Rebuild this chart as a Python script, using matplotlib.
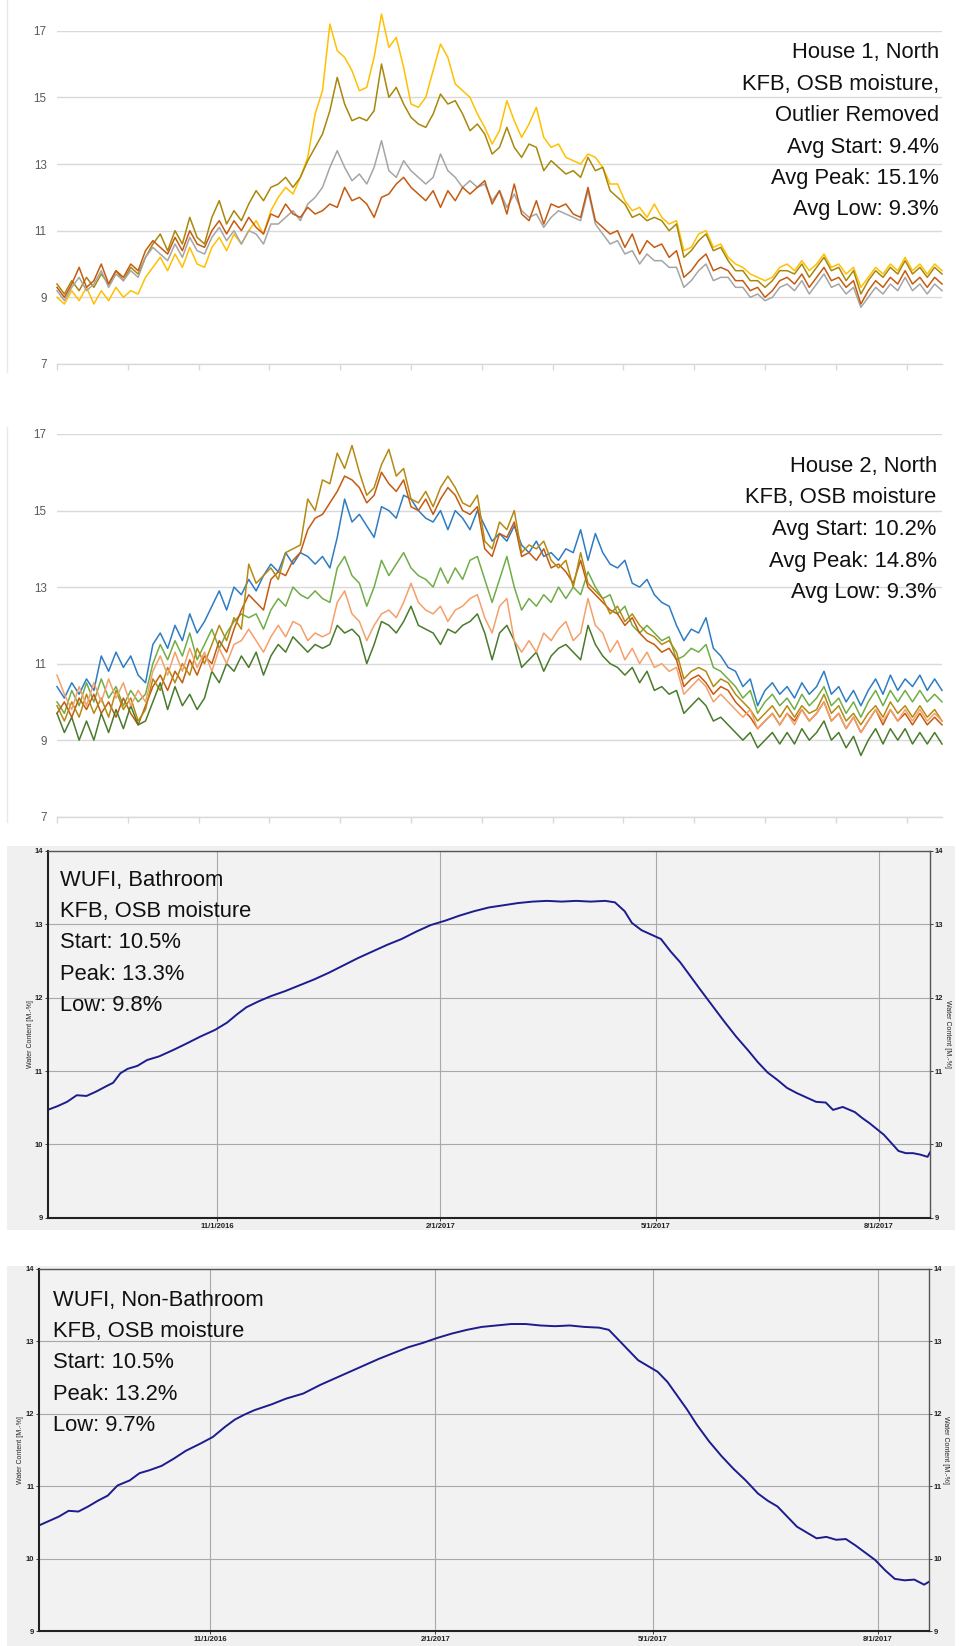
import datetime as dt
import numpy as np
import matplotlib
matplotlib.use("Agg")
import matplotlib.pyplot as plt
from matplotlib.patches import Rectangle
from matplotlib.lines import Line2D

# ---------------- field data: House 1 (OSB moisture content, %) ----------------
h1_yellow = [9.0, 8.8, 9.2, 8.9, 9.3, 8.8, 9.2, 8.9, 9.3, 9.0,
             9.2, 9.1, 9.6, 9.9, 10.2, 9.8, 10.3, 9.9, 10.5, 10.0,
             9.9, 10.5, 10.8, 10.4, 10.9, 10.6, 11.0, 11.3, 10.9, 11.6,
             12.0, 12.3, 12.1, 12.6, 13.2, 14.5, 15.2, 17.2, 16.4, 16.2,
             15.8, 15.2, 15.3, 16.2, 17.5, 16.5, 16.8, 15.9, 14.8, 14.7,
             15.0, 15.8, 16.6, 16.2, 15.4, 15.2, 15.0, 14.5, 14.1, 13.6,
             14.0, 14.9, 14.3, 13.8, 14.2, 14.7, 13.8, 13.5, 13.6, 13.2,
             13.1, 13.0, 13.3, 13.2, 12.9, 12.4, 12.4, 11.9, 11.6, 11.7,
             11.4, 11.8, 11.4, 11.2, 11.3, 10.4, 10.5, 10.9, 11.0, 10.5,
             10.6, 10.2, 10.0, 9.9, 9.7, 9.6, 9.5, 9.6, 9.9, 10.0,
             9.8, 10.1, 9.8, 10.0, 10.3, 9.9, 10.0, 9.7, 9.9, 9.3,
             9.6, 9.9, 9.7, 10.0, 9.8, 10.2, 9.8, 10.0, 9.7, 10.0, 9.8]
h1_gold = [9.4, 9.1, 9.5, 9.2, 9.6, 9.3, 9.7, 9.4, 9.8, 9.5,
           9.9, 9.7, 10.2, 10.6, 10.9, 10.4, 11.0, 10.6, 11.4, 10.8,
           10.6, 11.4, 11.9, 11.2, 11.6, 11.3, 11.8, 12.2, 11.9, 12.3,
           12.4, 12.6, 12.3, 12.6, 13.1, 13.5, 13.9, 14.6, 15.6, 14.8,
           14.3, 14.4, 14.3, 14.6, 16.0, 15.0, 15.3, 14.8, 14.4, 14.2,
           14.1, 14.5, 15.1, 14.8, 14.9, 14.5, 14.0, 14.2, 13.9, 13.3,
           13.5, 14.1, 13.5, 13.2, 13.6, 13.5, 12.8, 13.1, 12.9, 12.7,
           12.8, 12.6, 13.2, 12.8, 12.9, 12.2, 12.0, 11.8, 11.4, 11.5,
           11.3, 11.4, 11.3, 11.0, 11.2, 10.2, 10.4, 10.7, 10.9, 10.4,
           10.5, 10.1, 9.8, 9.8, 9.5, 9.5, 9.3, 9.5, 9.8, 9.8,
           9.7, 10.0, 9.6, 9.9, 10.2, 9.8, 9.9, 9.5, 9.8, 9.1,
           9.5, 9.8, 9.6, 9.9, 9.7, 10.1, 9.7, 9.9, 9.6, 9.9, 9.7]
h1_gray = [9.2, 8.9, 9.3, 9.6, 9.2, 9.4, 9.8, 9.3, 9.7, 9.5,
           9.8, 9.6, 10.2, 10.5, 10.3, 10.1, 10.6, 10.2, 10.8, 10.4,
           10.3, 10.8, 11.1, 10.7, 11.0, 10.6, 11.0, 10.9, 10.6, 11.2,
           11.2, 11.4, 11.6, 11.3, 11.8, 12.0, 12.3, 12.9, 13.4, 12.9,
           12.5, 12.7, 12.4, 12.9, 13.7, 12.8, 12.6, 13.1, 12.8, 12.6,
           12.4, 12.6, 13.3, 12.8, 12.6, 12.3, 12.5, 12.3, 12.4, 11.9,
           12.2, 11.7, 12.1, 11.6, 11.4, 11.5, 11.1, 11.4, 11.6, 11.5,
           11.4, 11.3, 12.2, 11.2, 10.9, 10.6, 10.7, 10.3, 10.4, 10.0,
           10.3, 10.1, 10.1, 9.9, 9.9, 9.3, 9.5, 9.8, 10.0, 9.5,
           9.6, 9.6, 9.3, 9.3, 9.0, 9.1, 8.9, 9.0, 9.3, 9.4,
           9.2, 9.5, 9.1, 9.4, 9.7, 9.3, 9.4, 9.1, 9.3, 8.7,
           9.0, 9.3, 9.1, 9.4, 9.2, 9.6, 9.2, 9.4, 9.1, 9.4, 9.2]
h1_rust = [9.3, 9.0, 9.4, 9.9, 9.3, 9.5, 10.0, 9.4, 9.8, 9.6,
           10.0, 9.8, 10.4, 10.7, 10.5, 10.3, 10.8, 10.4, 11.0, 10.6,
           10.5, 11.0, 11.3, 10.9, 11.3, 11.0, 11.4, 11.1, 10.9, 11.5,
           11.4, 11.8, 11.5, 11.4, 11.7, 11.5, 11.6, 11.8, 11.7, 12.3,
           11.9, 12.0, 11.8, 11.4, 12.0, 12.1, 12.4, 12.6, 12.3, 12.1,
           11.9, 12.2, 11.7, 12.2, 11.9, 12.3, 12.1, 12.3, 12.5, 11.8,
           12.2, 11.5, 12.4, 11.5, 11.3, 11.9, 11.2, 11.8, 11.7, 11.8,
           11.5, 11.4, 12.3, 11.3, 11.1, 10.9, 11.0, 10.5, 10.9, 10.3,
           10.7, 10.5, 10.6, 10.2, 10.4, 9.6, 9.8, 10.1, 10.3, 9.8,
           9.9, 9.8, 9.5, 9.5, 9.2, 9.3, 9.0, 9.2, 9.5, 9.6,
           9.4, 9.7, 9.3, 9.6, 9.9, 9.5, 9.6, 9.3, 9.5, 8.8,
           9.2, 9.5, 9.3, 9.6, 9.4, 9.8, 9.4, 9.6, 9.3, 9.6, 9.4]

# ---------------- field data: House 2 ----------------
h2_blue = [10.4, 10.1, 10.5, 10.2, 10.6, 10.3, 11.2, 10.8, 11.3, 10.9,
           11.2, 10.7, 10.5, 11.5, 11.8, 11.4, 12.0, 11.6, 12.3, 11.8,
           12.1, 12.5, 12.9, 12.4, 13.0, 12.8, 13.2, 12.9, 13.3, 13.6,
           13.4, 13.9, 13.6, 13.9, 13.8, 13.6, 13.8, 13.5, 14.3, 15.3,
           14.7, 14.9, 14.6, 14.3, 15.1, 15.0, 14.8, 15.4, 15.3, 15.0,
           14.8, 14.7, 15.0, 14.5, 15.0, 14.8, 14.5, 15.0, 14.6, 14.2,
           14.4, 14.2, 14.6, 14.1, 13.9, 14.2, 13.8, 13.9, 13.7, 14.0,
           13.9, 14.5, 13.7, 14.4, 13.9, 13.6, 13.5, 13.7, 13.1, 13.0,
           13.2, 12.8, 12.6, 12.5, 12.0, 11.6, 11.9, 11.8, 12.2, 11.4,
           11.2, 10.9, 10.8, 10.4, 10.6, 9.9, 10.3, 10.5, 10.2, 10.4,
           10.1, 10.5, 10.2, 10.4, 10.8, 10.2, 10.4, 10.0, 10.3, 9.9,
           10.3, 10.6, 10.2, 10.7, 10.3, 10.6, 10.4, 10.7, 10.3, 10.6, 10.3]
h2_gold = [9.9, 9.5, 10.0, 9.6, 10.2, 9.7, 10.1, 9.6, 10.3, 9.8,
           10.1, 9.5, 9.8, 10.6, 10.3, 10.9, 10.5, 11.0, 10.7, 11.4,
           11.0, 11.5, 12.0, 11.6, 12.2, 11.9, 13.6, 13.1, 13.3, 13.5,
           13.2, 13.9, 14.0, 14.1, 15.3, 15.0, 15.8, 15.7, 16.5, 16.1,
           16.7, 16.0, 15.4, 15.6, 16.2, 16.6, 15.9, 16.1, 15.3, 15.2,
           15.5, 15.1, 15.6, 15.9, 15.6, 15.2, 15.1, 15.4, 14.2, 14.0,
           14.7, 14.5, 15.0, 13.9, 14.1, 14.0, 14.2, 13.7, 13.5, 13.7,
           13.0, 13.9, 13.1, 12.9, 12.7, 12.3, 12.5, 12.1, 12.3, 12.0,
           11.8, 11.7, 11.5, 11.6, 11.3, 10.6, 10.8, 10.9, 10.8, 10.4,
           10.6, 10.5, 10.2, 10.0, 9.8, 9.5, 9.7, 9.9, 9.6, 9.9,
           9.6, 9.9, 9.7, 9.8, 10.2, 9.7, 9.9, 9.5, 9.7, 9.4,
           9.7, 9.9, 9.6, 10.0, 9.7, 9.9, 9.6, 9.9, 9.6, 9.8, 9.5]
h2_rust = [9.7, 10.0, 9.6, 10.1, 9.8, 10.2, 9.7, 10.0, 9.6, 10.1,
           9.7, 9.4, 9.9, 10.4, 10.7, 10.3, 10.8, 10.5, 11.1, 10.7,
           11.2, 11.0, 11.6, 11.3, 11.9, 12.4, 12.8, 12.6, 12.4, 13.2,
           13.4, 13.3, 13.7, 13.9, 14.5, 14.8, 14.9, 15.2, 15.5, 15.9,
           15.8, 15.6, 15.2, 15.4, 16.0, 15.7, 15.5, 15.8, 15.1, 15.0,
           15.3, 14.9, 15.3, 15.6, 15.4, 15.0, 14.9, 15.1, 14.0, 13.8,
           14.4, 14.3, 14.7, 13.8, 13.9, 13.7, 14.0, 13.5, 13.6, 13.4,
           13.1, 13.7, 13.0, 12.8, 12.6, 12.4, 12.3, 12.0, 12.2, 11.8,
           11.6, 11.5, 11.3, 11.4, 11.1, 10.4, 10.6, 10.7, 10.5, 10.2,
           10.4, 10.3, 10.0, 9.8, 9.6, 9.3, 9.5, 9.7, 9.4, 9.7,
           9.5, 9.8, 9.5, 9.7, 10.0, 9.5, 9.7, 9.3, 9.6, 9.2,
           9.5, 9.8, 9.4, 9.8, 9.5, 9.7, 9.4, 9.7, 9.4, 9.6, 9.4]
h2_green = [10.0, 9.7, 10.3, 9.9, 10.5, 10.0, 10.6, 10.1, 10.4, 9.9,
            10.3, 10.0, 10.2, 11.0, 11.5, 11.1, 11.6, 11.2, 11.8, 11.1,
            11.5, 11.9, 11.4, 11.8, 12.1, 12.3, 12.2, 12.3, 11.9, 12.4,
            12.7, 12.5, 13.0, 12.8, 12.7, 12.9, 12.7, 12.6, 13.5, 13.8,
            13.3, 13.1, 12.5, 13.0, 13.7, 13.3, 13.6, 13.9, 13.5, 13.3,
            13.2, 13.0, 13.5, 13.1, 13.5, 13.2, 13.7, 13.8, 13.2, 12.6,
            13.2, 13.8, 13.0, 12.4, 12.7, 12.5, 12.8, 12.6, 13.0, 12.7,
            13.0, 12.8, 13.4, 13.0, 12.7, 12.8, 12.3, 12.5, 12.0, 11.8,
            12.0, 11.8, 11.6, 11.7, 11.1, 11.2, 11.4, 11.3, 11.5, 10.9,
            10.8, 10.6, 10.4, 10.1, 10.3, 9.7, 10.0, 10.2, 9.9, 10.1,
            9.8, 10.2, 9.9, 10.1, 10.4, 9.9, 10.1, 9.7, 10.0, 9.6,
            10.0, 10.3, 9.9, 10.3, 10.0, 10.3, 10.0, 10.3, 10.0, 10.2, 10.0]
h2_orange = [10.7, 10.2, 9.8, 10.4, 9.9, 10.5, 10.0, 10.6, 10.1, 10.5,
             9.9, 10.3, 10.0, 10.8, 11.2, 10.7, 11.3, 10.8, 11.4, 10.9,
             11.3, 10.8, 11.4, 11.0, 11.5, 11.6, 11.9, 11.6, 11.3, 11.7,
             12.0, 11.7, 12.1, 12.0, 11.6, 11.8, 11.7, 11.8, 12.6, 12.9,
             12.3, 12.1, 11.6, 12.0, 12.3, 12.4, 12.2, 12.6, 13.1, 12.6,
             12.4, 12.3, 12.5, 12.1, 12.4, 12.5, 12.7, 12.8, 12.2, 11.8,
             12.5, 12.7, 11.6, 11.3, 11.6, 11.3, 11.8, 11.6, 11.9, 12.1,
             11.6, 11.8, 12.7, 12.0, 11.8, 11.3, 11.6, 11.1, 11.4, 11.0,
             11.3, 10.9, 11.0, 10.8, 10.9, 10.2, 10.4, 10.6, 10.4, 10.0,
             10.2, 10.0, 9.8, 9.6, 9.8, 9.3, 9.5, 9.7, 9.4, 9.7,
             9.4, 9.8, 9.5, 9.7, 10.0, 9.5, 9.7, 9.3, 9.6, 9.2,
             9.5, 9.8, 9.5, 9.8, 9.5, 9.8, 9.5, 9.8, 9.5, 9.7, 9.5]
h2_darkgreen = [9.7, 9.2, 9.6, 9.0, 9.5, 9.0, 9.7, 9.2, 9.8, 9.3,
                9.9, 9.4, 9.5, 10.0, 10.5, 9.8, 10.4, 9.9, 10.2, 9.8,
                10.1, 10.8, 10.5, 11.0, 10.8, 11.2, 10.9, 11.3, 10.7, 11.2,
                11.5, 11.3, 11.7, 11.5, 11.3, 11.5, 11.4, 11.5, 12.0, 11.8,
                11.9, 11.7, 11.0, 11.5, 12.1, 12.0, 11.8, 12.1, 12.5, 12.0,
                11.9, 11.8, 11.5, 11.9, 11.8, 12.0, 12.1, 12.3, 11.8, 11.1,
                11.8, 12.0, 11.6, 10.9, 11.1, 11.3, 10.8, 11.2, 11.4, 11.5,
                11.3, 11.1, 12.0, 11.5, 11.2, 11.0, 10.9, 10.7, 10.9, 10.5,
                10.8, 10.3, 10.4, 10.2, 10.3, 9.7, 9.9, 10.1, 9.9, 9.5,
                9.6, 9.4, 9.2, 9.0, 9.2, 8.8, 9.0, 9.2, 8.9, 9.2,
                8.9, 9.3, 9.0, 9.2, 9.5, 9.0, 9.2, 8.8, 9.1, 8.6,
                9.0, 9.3, 8.9, 9.3, 9.0, 9.3, 8.9, 9.2, 8.9, 9.2, 8.9]

sample = np.arange(len(h1_yellow))
field_yticks = [7, 9, 11, 13, 15, 17]

# ---------------- WUFI simulation (days since 2016-08-23, water content %) ----------------
wufi_start = dt.date(2016, 8, 23)
bath_days = [0, 4, 8, 12, 16, 20, 24, 27, 30, 33, 37, 41, 46, 52, 57, 63, 69, 74, 78, 82,
             87, 92, 98, 104, 110, 116, 122, 128, 134, 140, 146, 152, 158, 164, 170, 176,
             182, 188, 194, 200, 206, 212, 218, 224, 230, 234, 238, 241, 245, 249, 253,
             257, 261, 265, 269, 274, 279, 284, 289, 293, 297, 301, 305, 309, 313, 317,
             321, 324, 328, 333, 336, 339, 342, 345, 348, 351, 354, 357, 360, 363, 364]
bath_wc = [10.47, 10.52, 10.58, 10.67, 10.66, 10.72, 10.79, 10.84, 10.97, 11.03, 11.07,
           11.15, 11.20, 11.29, 11.37, 11.47, 11.56, 11.66, 11.77, 11.87, 11.95, 12.02,
           12.09, 12.17, 12.25, 12.34, 12.44, 12.54, 12.63, 12.72, 12.80, 12.90, 12.99,
           13.05, 13.12, 13.18, 13.23, 13.26, 13.29, 13.31, 13.32, 13.31, 13.32, 13.31,
           13.32, 13.30, 13.18, 13.02, 12.92, 12.86, 12.80, 12.63, 12.48, 12.30, 12.12,
           11.90, 11.68, 11.47, 11.28, 11.12, 10.98, 10.88, 10.77, 10.70, 10.64, 10.58,
           10.57, 10.47, 10.51, 10.44, 10.36, 10.29, 10.21, 10.13, 10.02, 9.91, 9.88,
           9.88, 9.86, 9.83, 9.89]
nonbath_days = [0, 4, 8, 12, 16, 20, 24, 28, 32, 37, 41, 45, 50, 55, 60, 66, 71, 76, 80, 84,
                88, 95, 101, 108, 115, 121, 127, 133, 139, 145, 151, 157, 163, 169, 175,
                181, 187, 193, 199, 205, 211, 217, 223, 229, 233, 237, 241, 245, 249, 253,
                257, 261, 265, 269, 274, 279, 284, 289, 294, 298, 302, 306, 310, 314, 318,
                322, 326, 330, 334, 338, 342, 346, 350, 354, 358, 362, 364]
nonbath_wc = [10.46, 10.52, 10.58, 10.66, 10.65, 10.72, 10.80, 10.87, 11.01, 11.08, 11.18,
              11.22, 11.28, 11.38, 11.49, 11.59, 11.68, 11.82, 11.92, 11.99, 12.05, 12.13,
              12.21, 12.28, 12.40, 12.49, 12.58, 12.67, 12.76, 12.84, 12.92, 12.98, 13.05,
              13.11, 13.16, 13.20, 13.22, 13.24, 13.24, 13.22, 13.21, 13.22, 13.20, 13.19,
              13.16, 13.02, 12.88, 12.74, 12.66, 12.58, 12.44, 12.25, 12.06, 11.85, 11.62,
              11.42, 11.24, 11.08, 10.90, 10.80, 10.72, 10.58, 10.44, 10.36, 10.28, 10.30,
              10.26, 10.27, 10.18, 10.08, 9.98, 9.84, 9.72, 9.70, 9.71, 9.64, 9.68]
wufi_tick_dates = [dt.date(2016, 11, 1), dt.date(2017, 2, 1), dt.date(2017, 5, 1), dt.date(2017, 8, 1)]
wufi_tick_labels = ["11/1/2016", "2/1/2017", "5/1/2017", "8/1/2017"]
wufi_yticks = [9, 10, 11, 12, 13, 14]

# ---------------- annotation text ----------------
h1_notes = ["House 1, North", "KFB, OSB moisture,", "Outlier Removed",
            "Avg Start: 9.4%", "Avg Peak: 15.1%", "Avg Low: 9.3%"]
h2_notes = ["House 2, North", "KFB, OSB moisture", "Avg Start: 10.2%",
            "Avg Peak: 14.8%", "Avg Low: 9.3%"]
bath_notes = ["WUFI, Bathroom", "KFB, OSB moisture", "Start: 10.5%", "Peak: 13.3%", "Low: 9.8%"]
nonbath_notes = ["WUFI, Non-Bathroom", "KFB, OSB moisture", "Start: 10.5%", "Peak: 13.2%", "Low: 9.7%"]

# ---------------- figure ----------------
plt.rcParams['font.family'] = ['Liberation Sans', 'DejaVu Sans']
W, H = 960, 1646
fig = plt.figure(figsize=(W / 100, H / 100), dpi=100)
fig.patch.set_facecolor('white')


def fx(x):
    return x / W


def fy(y):
    return 1 - y / H


def axes_px(left, top, right, bottom):
    return fig.add_axes([fx(left), fy(bottom), (right - left) / W, (bottom - top) / H])


def style_field(ax):
    ax.set_xlim(0, len(sample) - 1)
    ax.set_ylim(7, 17)
    ax.set_yticks(field_yticks)
    ax.set_xticks(np.arange(0, len(sample), 9.6))
    ax.set_xticklabels([])
    ax.grid(axis='y', color='#d9d9d9', lw=1.0)
    ax.set_axisbelow(True)
    for side in ('top', 'right', 'left'):
        ax.spines[side].set_visible(False)
    ax.spines['bottom'].set_color('#d9d9d9')
    ax.spines['bottom'].set_linewidth(1.0)
    ax.tick_params(axis='y', length=0, pad=7.5, labelsize=8.4, labelcolor='#595959')
    ax.tick_params(axis='x', length=4, color='#d9d9d9', width=1)


def notes(lines, x, y0, step, ha):
    for k, t in enumerate(lines):
        fig.text(fx(x), fy(y0 + k * step), t, ha=ha, va='baseline',
                 fontsize=15.8, color='#111111')


# House 1
ax1 = axes_px(57, 30.7, 942, 364)
for vals, col in [(h1_yellow, '#ffc000'), (h1_gold, '#a8870a'),
                  (h1_gray, '#a5a5a5'), (h1_rust, '#c55a11')]:
    ax1.plot(sample, vals, color=col, lw=1.1, clip_on=False)
style_field(ax1)
notes(h1_notes, 939, 58.3, 31.4, 'right')
fig.add_artist(Line2D([fx(7), fx(7)], [fy(0), fy(372)], color='#e8e8e8', lw=1))

# House 2
ax2 = axes_px(57, 434, 942, 816.7)
for vals, col in [(h2_blue, '#2e7cc4'), (h2_green, '#70ad47'), (h2_rust, '#c55a11'),
                  (h2_gold, '#b48a12'), (h2_darkgreen, '#4a7a2c'), (h2_orange, '#f4a06a')]:
    ax2.plot(sample, vals, color=col, lw=1.1, clip_on=False)
style_field(ax2)
notes(h2_notes, 936.7, 471.7, 31.6, 'right')
fig.add_artist(Line2D([fx(7), fx(7)], [fy(427), fy(822)], color='#e8e8e8', lw=1))


def style_wufi(ax):
    ax.set_facecolor('#f2f2f2')
    ax.set_xlim(wufi_start, dt.date(2017, 8, 22))
    ax.set_ylim(9, 14)
    ax.set_yticks(wufi_yticks)
    ax.set_xticks(wufi_tick_dates)
    ax.set_xticklabels(wufi_tick_labels)
    ax.grid(True, color='#a9a9a9', lw=0.8)
    ax.set_axisbelow(True)
    for side in ('top', 'right'):
        ax.spines[side].set_color('#555555')
        ax.spines[side].set_linewidth(1.0)
    for side in ('left', 'bottom'):
        ax.spines[side].set_color('#222222')
        ax.spines[side].set_linewidth(1.5)
    ax.tick_params(labelsize=5.5, length=2, width=0.6, pad=1.5, colors='#222222',
                   labelright=True, right=True)
    for lab in ax.get_xticklabels() + ax.get_yticklabels():
        lab.set_fontweight('bold')


def wufi_dates(days):
    return [wufi_start + dt.timedelta(days=d) for d in days]


# grey panel backgrounds behind the two simulation charts
for top, bottom in [(846, 1230), (1266, 1646)]:
    fig.add_artist(Rectangle((fx(7), fy(bottom)), (955 - 7) / W, (bottom - top) / H,
                             transform=fig.transFigure, facecolor='#f0f0f0',
                             edgecolor='none', zorder=-5))

# WUFI bathroom
ax3 = axes_px(47.7, 851, 930, 1217.7)
ax3.plot(wufi_dates(bath_days), bath_wc, color='#1c1c8e', lw=1.4)
style_wufi(ax3)
fig.text(fx(30), fy(1034), "Water Content [M.-%]", rotation=90, fontsize=5,
         ha='center', va='center', color='#222222')
fig.text(fx(947), fy(1034), "Water Content [M.-%]", rotation=270, fontsize=5,
         ha='center', va='center', color='#222222')
notes(bath_notes, 60, 886, 31.25, 'left')

# WUFI non-bathroom
ax4 = axes_px(39.3, 1269, 929, 1631)
ax4.plot(wufi_dates(nonbath_days), nonbath_wc, color='#1c1c8e', lw=1.4)
style_wufi(ax4)
fig.text(fx(21), fy(1450), "Water Content [M.-%]", rotation=90, fontsize=5,
         ha='center', va='center', color='#222222')
fig.text(fx(946), fy(1450), "Water Content [M.-%]", rotation=270, fontsize=5,
         ha='center', va='center', color='#222222')
notes(nonbath_notes, 53.3, 1306, 31.2, 'left')

fig.savefig("out.png", dpi=100, facecolor='white')
